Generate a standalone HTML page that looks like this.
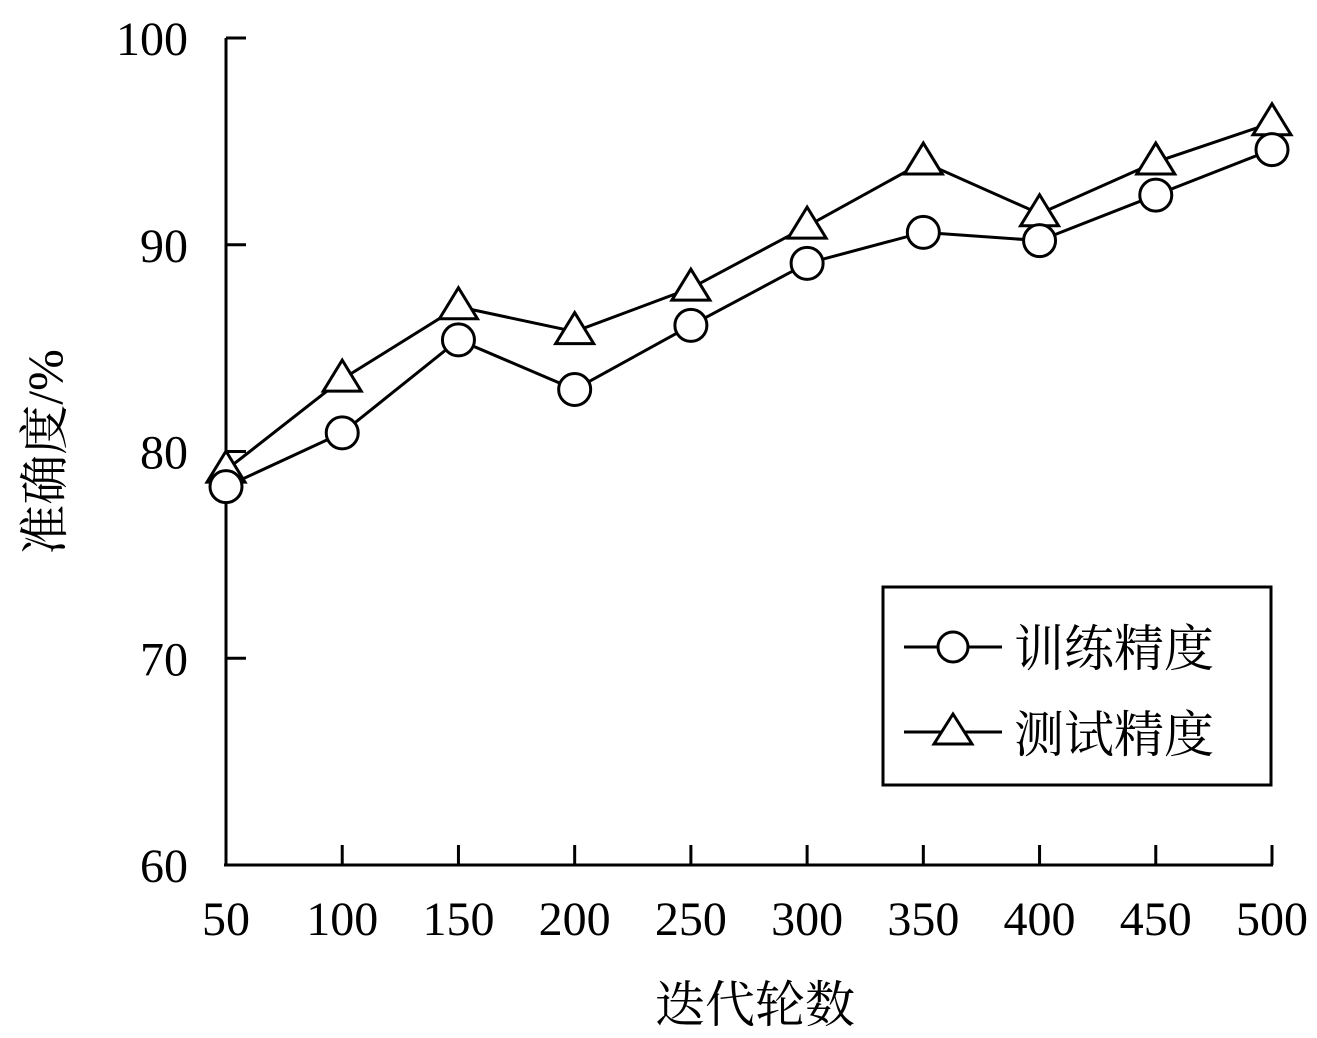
<!DOCTYPE html>
<html><head><meta charset="utf-8"><style>
html,body{margin:0;padding:0;background:#fff;}
svg{display:block;}
text{font-family:"Liberation Serif","Noto Serif CJK SC",serif;fill:#000;}
</style></head><body>
<svg id="chart" width="1317" height="1038" viewBox="0 0 1317 1038">
<g id="axes"></g>
<g id="series"></g>
<g>
<rect x="883" y="587" width="388" height="198" fill="#fff" stroke="#000" stroke-width="3"/>
<g>
<line x1="904" y1="647" x2="1002" y2="647" stroke="#000" stroke-width="3"/>
<circle cx="953" cy="647" r="15" fill="#fff" stroke="#000" stroke-width="3"/>
<text x="1014" y="666" font-size="50" font-family="Noto Serif CJK SC,serif">训练精度</text>
</g>
<g>
<line x1="904" y1="732" x2="1002" y2="732" stroke="#000" stroke-width="3"/>
<polygon points="953,714 972,744 934,744" fill="#fff" stroke="#000" stroke-width="3"/>
<text x="1014" y="752" font-size="50" font-family="Noto Serif CJK SC,serif">测试精度</text>
</g>
</g>
<text x="755" y="1022" font-size="50" text-anchor="middle" font-family="Noto Serif CJK SC,serif">迭代轮数</text>
<text transform="translate(62,452) rotate(-90)" font-size="50" text-anchor="middle"><tspan font-family="Noto Serif CJK SC,serif">准确度</tspan>/%</text>
</svg>
<script>
const categories=[50,100,150,200,250,300,350,400,450,500];
const trainValues=[78.3,80.9,85.4,83.0,86.1,89.1,90.6,90.2,92.4,94.6];
const testValues=[79.1,83.5,87.0,85.8,87.9,90.9,94.0,91.5,94.0,95.9];
const yTicks=[60,70,80,90,100];
const NS="http://www.w3.org/2000/svg";
function xs(v){return 226+(v-50)/450*1046;}
function ys(v){return 865-(v-60)/40*827;}
function mk(tag,attrs,parent){const e=document.createElementNS(NS,tag);for(const k in attrs)e.setAttribute(k,attrs[k]);parent.appendChild(e);return e;}
const axes=document.getElementById('axes');
let yl=mk('line',{x1:226,y1:38,x2:226,y2:866,stroke:'#000','stroke-width':3},axes);


let xl=mk('line',{x1:224,y1:865,x2:1273,y2:865,stroke:'#000','stroke-width':3},axes);


yTicks.forEach(t=>{
 const y=ys(t);
 mk('line',{x1:226,y1:y,x2:246,y2:y,stroke:'#000','stroke-width':3},axes);
 const tx=mk('text',{x:188,y:y+17,'font-size':48,'text-anchor':'end'},axes);
 tx.textContent=t;
 
 
});
categories.forEach(c=>{
 const x=xs(c);
 mk('line',{x1:x,y1:865,x2:x,y2:845,stroke:'#000','stroke-width':3},axes);
 const tx=mk('text',{x:x,y:935,'font-size':48,'text-anchor':'middle'},axes);
 tx.textContent=c;
 
 
});
const series=document.getElementById('series');
function drawLine(vals,name){
 const p=mk('polyline',{points:vals.map((v,i)=>xs(categories[i])+','+ys(v)).join(' '),fill:'none',stroke:'#000','stroke-width':3},series);
 
 
}
drawLine(trainValues,'train-line');
drawLine(testValues,'test-line');
testValues.forEach((v,i)=>{
 const x=xs(categories[i]),y=ys(v);
 const t=mk('polygon',{points:`${x},${y-19} ${x+19},${y+12} ${x-19},${y+12}`,fill:'#fff',stroke:'#000','stroke-width':3},series);
 
 
});
trainValues.forEach((v,i)=>{
 const c=mk('circle',{cx:xs(categories[i]),cy:ys(v),r:16,fill:'#fff',stroke:'#000','stroke-width':3},series);
 
 
});
</script>
</body></html>
